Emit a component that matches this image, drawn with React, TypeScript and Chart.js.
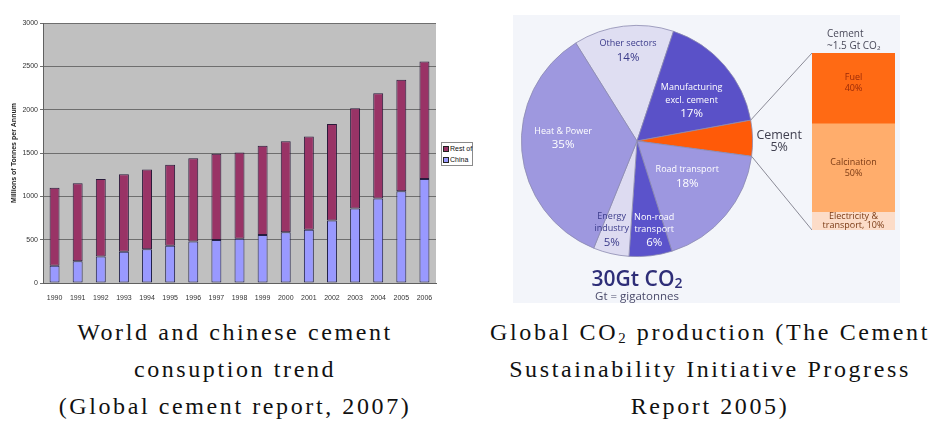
import React, { useEffect, useRef } from "react";
import { Chart, registerables } from "chart.js";
Chart.register(...registerables);

// ---------- data: left chart ----------
const years = ["1990","1991","1992","1993","1994","1995","1996","1997","1998","1999","2000","2001","2002","2003","2004","2005","2006"];
const worldTotal = [1100,1150,1200,1255,1310,1365,1440,1490,1505,1585,1635,1690,1835,2015,2190,2345,2555];
const chinaValues = [200,250,305,360,390,430,480,495,510,555,585,615,720,860,975,1060,1200];
const restOfWorld = worldTotal.map((t, i) => t - chinaValues[i]);
const yAxisMax = 3000;
const yAxisStep = 500;
const legendLabels = ["Rest of", "China"];

// ---------- data: right pie ----------
const sectorNames = [["Other sectors"],["Manufacturing","excl. cement"],["Cement"],["Road transport"],["Non-road","transport"],["Energy","industry"],["Heat & Power"]];
const sectorShares = [14,17,5,18,6,5,35];
const cementTitle = ["Cement", "~1.5 Gt CO\u2082"];
const cementParts = ["Electricity & transport","Calcination","Fuel"];
const cementPartLines = [["Electricity &","transport, 10%"],["Calcination","50%"],["Fuel","40%"]];
const cementShares = [10,50,40];
const totalLabel = "30Gt CO";
const totalSub = "2";
const totalNote = "Gt = gigatonnes";

// ---------- styles ----------
const sectorColors = ["#DFDEF2","#5A51C8","#FF5A08","#9D97E0","#5B53CB","#DDDBF1","#9E98DF"];
const sectorTextColors = ["#3A3A8A","#FFFFFF","#404050","#FFFFFF","#FFFFFF","#3A3A8A","#FFFFFF"];
// [radius factor, angle offset deg]
const sectorLabelPos: [number, number][] = [[0.79,1.2],[0.59,4.2],[1.23,1.4],[0.53,-5.1],[0.78,-4.2],[0.79,3.1],[0.64,7.7]];
const cementColors = ["#FCDCC8","#FFAD6C","#FF6A14"];

const PIE_BOX = { left: 513, top: 15, width: 387, height: 288 };
const BAR_BOX = { left: 800, top: 25, width: 100, height: 210 };

export default function App() {
  const leftRef = useRef<HTMLCanvasElement>(null);
  const pieRef = useRef<HTMLCanvasElement>(null);
  const barRef = useRef<HTMLCanvasElement>(null);

  useEffect(() => {
    const plotBg = {
      id: "plotBg",
      beforeDraw(chart: any) {
        const { ctx, chartArea: a } = chart;
        ctx.save();
        ctx.fillStyle = "#C0C0C0";
        ctx.fillRect(a.left, a.top, a.right - a.left, a.bottom - a.top);
        ctx.restore();
      },
    };
    const left = new Chart(leftRef.current!, {
      type: "bar",
      data: {
        labels: years,
        datasets: [
          { label: "China", data: chinaValues, backgroundColor: "#9999FF", borderColor: "#22224a", borderWidth: 1, borderSkipped: false, barPercentage: 0.43, categoryPercentage: 1 },
          { label: "Rest of World", data: restOfWorld, backgroundColor: "#993366", borderColor: "#2a1a3a", borderWidth: 1, borderSkipped: false, barPercentage: 0.43, categoryPercentage: 1 },
        ],
      },
      options: {
        responsive: false,
        animation: false,
        events: [],
        layout: { padding: { left: 8, right: 44, top: 23, bottom: 0 } },
        plugins: { legend: { display: false }, tooltip: { enabled: false } },
        scales: {
          x: {
            stacked: true,
            grid: { display: false },
            border: { display: true, color: "#606060" },
            ticks: { font: { family: "Liberation Sans", size: 7 }, color: "#333", padding: 3, maxRotation: 0, autoSkip: false },
            afterFit: (s: any) => { s.height = 17; },
          },
          y: {
            stacked: true,
            min: 0,
            max: yAxisMax,
            ticks: { stepSize: yAxisStep, font: { family: "Liberation Sans", size: 7 }, color: "#333", padding: 2, callback: (v: any) => String(v) },
            grid: { color: "#6e6e6e", lineWidth: 1, tickLength: 3 },
            border: { display: true, color: "#606060" },
            title: { display: true, text: "Millions of Tonnes per Annum", font: { family: "Liberation Sans", size: 7, weight: "bold" }, color: "#222", padding: { top: 2, bottom: 0 } },
            afterFit: (s: any) => { s.width = 35; },
          },
        },
      },
      plugins: [plotBg],
    });

    const bar = new Chart(barRef.current!, {
      type: "bar",
      data: {
        labels: ["Cement"],
        datasets: cementParts.map((p, i) => ({
          label: p,
          data: [cementShares[i]],
          backgroundColor: cementColors[i],
          borderWidth: 0,
          barPercentage: 1,
          categoryPercentage: 1,
        })),
      },
      options: {
        responsive: false,
        animation: false,
        events: [],
        layout: { padding: { left: 12, right: 5, top: 28, bottom: 5 } },
        plugins: { legend: { display: false }, tooltip: { enabled: false } },
        scales: {
          x: { stacked: true, display: false },
          y: { stacked: true, display: false, min: 0, max: 100 },
        },
      },
      plugins: [
        {
          id: "barLabels",
          afterDatasetsDraw(chart: any) {
            const { ctx, chartArea: a } = chart;
            ctx.save();
            ctx.textAlign = "center";
            ctx.textBaseline = "middle";
            ctx.font = "9px 'Open Sans', sans-serif";
            chart.data.datasets.forEach((_: any, i: number) => {
              const el = chart.getDatasetMeta(i).data[0];
              const cy = (el.y + el.base) / 2 - (i === 2 ? 5 : 0);
              const lines = cementPartLines[i];
              const lh = i === 0 ? 9.5 : 11;
              ctx.fillStyle = i === 2 ? "#9A2A08" : "#7A3A14";
              lines.forEach((t, k) => ctx.fillText(t, el.x, cy + (k - (lines.length - 1) / 2) * lh));
            });
            ctx.textAlign = "left";
            ctx.fillStyle = "#4a4a5a";
            ctx.font = "10px 'Open Sans', sans-serif";
            ctx.fillText(cementTitle[0], a.left + 15, a.top - 19);
            ctx.fillText(cementTitle[1], a.left + 15, a.top - 7);
            ctx.restore();
          },
        },
      ],
    });

    const pie = new Chart(pieRef.current!, {
      type: "pie",
      data: {
        labels: sectorNames.map((n) => n.join(" ")),
        datasets: [{ data: sectorShares, backgroundColor: sectorColors, borderColor: "#8c8ab0", borderWidth: 0.8 }],
      },
      options: {
        responsive: false,
        animation: false,
        events: [],
        rotation: 328,
        layout: { padding: { left: 8, top: 10, right: 147, bottom: 46 } },
        plugins: { legend: { display: false }, tooltip: { enabled: false } },
      },
      plugins: [
        {
          id: "pieDecor",
          afterDatasetsDraw(chart: any) {
            const { ctx } = chart;
            const meta = chart.getDatasetMeta(0);
            ctx.save();
            ctx.textAlign = "center";
            ctx.textBaseline = "middle";
            let cx = 0, cyC = 0;
            meta.data.forEach((arc: any, i: number) => {
              const { x, y, startAngle, endAngle, outerRadius } = arc.getProps(["x", "y", "startAngle", "endAngle", "outerRadius"]);
              cx = x; cyC = y;
              const [rf, da] = sectorLabelPos[i];
              const ang = (startAngle + endAngle) / 2 + (da * Math.PI) / 180;
              const lx = x + Math.cos(ang) * outerRadius * rf;
              const ly = y + Math.sin(ang) * outerRadius * rf;
              const names = sectorNames[i];
              const outside = rf > 1;
              const nameSize = outside ? 12.5 : 9;
              const pctSize = outside ? 12.5 : 11.5;
              const lh = outside ? 12 : 12.5;
              const n = names.length + 1;
              const top = ly - ((n - 1) * lh) / 2;
              ctx.fillStyle = sectorTextColors[i];
              ctx.font = `${nameSize}px 'Open Sans', sans-serif`;
              names.forEach((t, k) => ctx.fillText(t, lx, top + k * lh));
              ctx.font = `${pctSize}px 'Open Sans', sans-serif`;
              ctx.fillText(`${sectorShares[i]}%`, lx, top + names.length * lh + (outside ? 0 : 1));
              if (i === 2) {
                const ba = bar.chartArea;
                const bx = BAR_BOX.left - PIE_BOX.left + ba.left;
                const btop = BAR_BOX.top - PIE_BOX.top + ba.top;
                const bbot = BAR_BOX.top - PIE_BOX.top + ba.bottom;
                ctx.strokeStyle = "#8a8a96";
                ctx.lineWidth = 1;
                ctx.beginPath();
                ctx.moveTo(x + Math.cos(startAngle) * outerRadius, y + Math.sin(startAngle) * outerRadius);
                ctx.lineTo(bx, btop);
                ctx.moveTo(x + Math.cos(endAngle) * outerRadius, y + Math.sin(endAngle) * outerRadius);
                ctx.lineTo(bx, bbot);
                ctx.stroke();
              }
            });
            // total label
            ctx.textAlign = "left";
            ctx.fillStyle = "#2E2E78";
            ctx.font = "600 21px 'Open Sans', sans-serif";
            const w1 = ctx.measureText(totalLabel).width;
            ctx.font = "600 14px 'Open Sans', sans-serif";
            const w2 = ctx.measureText(totalSub).width;
            const sx = cx - (w1 + w2) / 2;
            const ty = cyC + 139;
            ctx.font = "600 21px 'Open Sans', sans-serif";
            ctx.fillText(totalLabel, sx, ty);
            ctx.font = "600 14px 'Open Sans', sans-serif";
            ctx.fillText(totalSub, sx + w1, ty + 4);
            ctx.textAlign = "center";
            ctx.fillStyle = "#4a4a6a";
            ctx.font = "11.5px 'Open Sans', sans-serif";
            ctx.fillText(totalNote, cx, cyC + 156);
            ctx.restore();
          },
        },
      ],
    });

    return () => {
      pie.destroy();
      bar.destroy();
      left.destroy();
    };
  }, []);

  const abs = (l: number, t: number, w: number, h: number): React.CSSProperties => ({ position: "absolute", left: l, top: t, width: w, height: h });
  const capStyle: React.CSSProperties = {
    position: "absolute",
    top: 314,
    textAlign: "center",
    fontFamily: "'Liberation Serif', serif",
    fontSize: 24,
    lineHeight: "37px",
    letterSpacing: "2.6px",
    color: "#111",
    whiteSpace: "nowrap",
  };

  return (
    <div style={{ position: "fixed", left: 0, top: 0, width: 937, height: 424, background: "#fff", overflow: "hidden" }}>
      <canvas ref={leftRef} width={480} height={300} style={abs(0, 0, 480, 300)} />
      <div style={{ position: "absolute", left: 441, top: 142, width: 30, height: 22, border: "1px solid #8a8a8a", background: "#fff", fontFamily: "'Liberation Sans', sans-serif", fontSize: 7, lineHeight: "11px", color: "#111", whiteSpace: "nowrap" }}>
        {legendLabels.map((l, i) => (
          <div key={l} style={{ display: "flex", alignItems: "center", paddingLeft: 1, whiteSpace: "nowrap" }}>
            <span style={{ display: "inline-block", flex: "none", width: 4, height: 4, border: "1px solid #222", background: i === 0 ? "#993366" : "#9999FF", marginRight: 1 }} />
            <span>{l}</span>
          </div>
        ))}
      </div>
      <div style={{ ...abs(PIE_BOX.left, PIE_BOX.top, PIE_BOX.width, PIE_BOX.height), background: "#F3F5FA" }} />
      <canvas ref={pieRef} width={PIE_BOX.width} height={PIE_BOX.height} style={abs(PIE_BOX.left, PIE_BOX.top, PIE_BOX.width, PIE_BOX.height)} />
      <canvas ref={barRef} width={BAR_BOX.width} height={BAR_BOX.height} style={abs(BAR_BOX.left, BAR_BOX.top, BAR_BOX.width, BAR_BOX.height)} />
      <div style={{ ...capStyle, left: 0, width: 470 }}>
        World and chinese cement<br />consuption trend<br />(Global cement report, 2007)
      </div>
      <div style={{ ...capStyle, left: 480, width: 460 }}>
        Global CO<sub style={{ fontSize: "0.62em", verticalAlign: "-0.2em", lineHeight: 0 }}>2</sub> production (The Cement<br />Sustainability Initiative Progress<br />Report 2005)
      </div>
    </div>
  );
}
